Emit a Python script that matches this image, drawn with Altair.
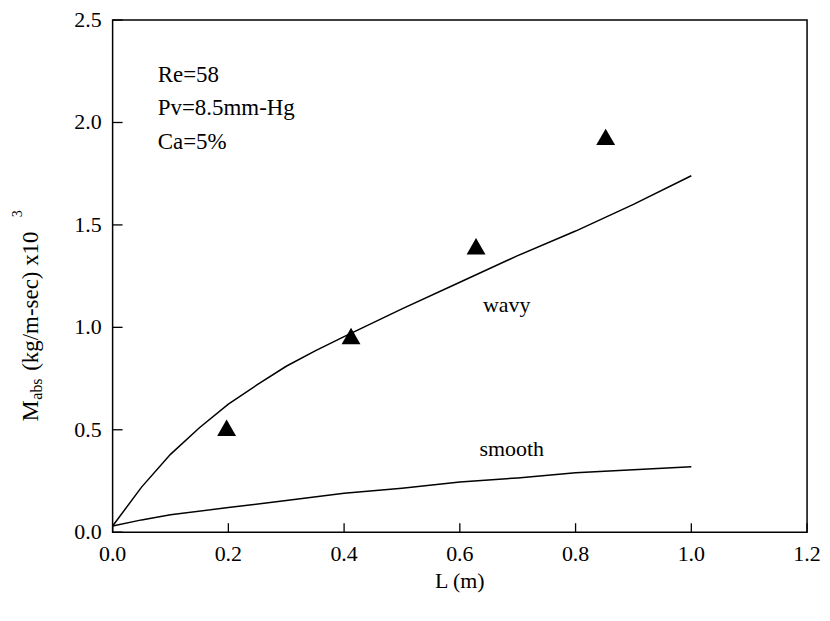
import altair as alt
import pandas as pd

# ---- data ----
wavy_L = [0.0, 0.05, 0.1, 0.15, 0.2, 0.25, 0.3, 0.35, 0.4, 0.5, 0.6, 0.7, 0.8, 0.9, 1.0]
wavy_M = [0.03, 0.22, 0.38, 0.51, 0.625, 0.72, 0.81, 0.885, 0.955, 1.09, 1.22, 1.35, 1.47, 1.60, 1.74]
smooth_L = [0.0, 0.05, 0.1, 0.2, 0.3, 0.4, 0.5, 0.6, 0.7, 0.8, 0.9, 1.0]
smooth_M = [0.03, 0.06, 0.085, 0.12, 0.155, 0.19, 0.215, 0.245, 0.265, 0.29, 0.305, 0.32]
exp_L = [0.197, 0.412, 0.628, 0.852]
exp_M = [0.51, 0.958, 1.396, 1.93]
x_ticks = [0.0, 0.2, 0.4, 0.6, 0.8, 1.0, 1.2]
y_ticks = [0.0, 0.5, 1.0, 1.5, 2.0, 2.5]
notes = ["Re=58", "Pv=8.5mm-Hg", "Ca=5%"]
notes_x = [0.078, 0.078, 0.078]
notes_y = [2.20, 2.035, 1.87]
curve_labels = ["wavy", "smooth"]
curve_labels_x = [0.64, 0.634]
curve_labels_y = [1.075, 0.37]

W, H = 697, 514
FONT = "Liberation Serif"

xs = alt.Scale(domain=[0, 1.2], nice=False, zero=False)
ys = alt.Scale(domain=[0, 2.5], nice=False, zero=False)


def X(f):
    return alt.X(f, scale=xs, axis=None, title=None)


def Y(f):
    return alt.Y(f, scale=ys, axis=None, title=None)


df_lines = pd.DataFrame(
    {"L": wavy_L + smooth_L, "M": wavy_M + smooth_M,
     "s": ["wavy"] * len(wavy_L) + ["smooth"] * len(smooth_L)}
)
df_exp = pd.DataFrame({"L": exp_L, "M": exp_M})
df_xt = pd.DataFrame({"L": x_ticks})
df_yt = pd.DataFrame({"M": y_ticks})
df_notes = pd.DataFrame({"L": notes_x, "M": notes_y, "t": notes})
df_cl = pd.DataFrame({"L": curve_labels_x, "M": curve_labels_y, "t": curve_labels})

lines = alt.Chart(df_lines).mark_line(color="black", strokeWidth=1.5).encode(
    x=X("L:Q"), y=Y("M:Q"), detail="s:N"
)

pts = alt.Chart(df_exp).mark_point(shape="triangle-up", filled=True, color="black",
                                   size=360, opacity=1).encode(x=X("L:Q"), y=Y("M:Q"))

# inward ticks
xt = alt.Chart(df_xt).mark_rule(color="black", strokeWidth=1.3).encode(
    x=X("L:Q"), y=alt.value(H), y2=alt.value(H - 9),
)
yt = alt.Chart(df_yt).mark_rule(color="black", strokeWidth=1.3).encode(
    y=Y("M:Q"), x=alt.value(0), x2=alt.value(10),
)

# tick labels
xl = alt.Chart(df_xt).mark_text(align="center", baseline="top", font=FONT,
                                fontSize=22, color="black").encode(
    x=X("L:Q"), y=alt.value(H + 12), text=alt.Text("L:Q", format=".1f"),
)
yl = alt.Chart(df_yt).mark_text(align="right", baseline="middle", font=FONT,
                                fontSize=22, color="black").encode(
    y=Y("M:Q"), x=alt.value(-11), text=alt.Text("M:Q", format=".1f"),
)

note_text = alt.Chart(df_notes).mark_text(align="left", baseline="alphabetic",
                                          font=FONT, fontSize=23, color="black").encode(
    x=X("L:Q"), y=Y("M:Q"), text="t:N",
)
cl_text = alt.Chart(df_cl).mark_text(align="left", baseline="alphabetic",
                                     font=FONT, fontSize=22, color="black").encode(
    x=X("L:Q"), y=Y("M:Q"), text="t:N",
)

# axis titles
xtitle = alt.Chart(pd.DataFrame({"t": ["L  (m)"]})).mark_text(
    align="center", baseline="alphabetic", font=FONT, fontSize=22, color="black"
).encode(x=alt.value(W / 2), y=alt.value(H + 56), text="t:N")


def ytext(txt, yv, xv, size):
    return alt.Chart(pd.DataFrame({"t": [txt]})).mark_text(
        align="left", baseline="alphabetic", angle=270, font=FONT, fontSize=size, color="black"
    ).encode(x=alt.value(xv), y=alt.value(yv), text="t:N")


yt_M = ytext("M", 403, -75, 24)
yt_abs = ytext("abs", 381, -71, 16)
yt_rest = ytext("(kg/m-sec) x10", 352, -75, 23)
yt_sup = ytext("3", 198, -91, 14)

chart = alt.layer(lines, pts, xt, yt, xl, yl, note_text, cl_text, xtitle,
                  yt_M, yt_abs, yt_rest, yt_sup).properties(
    width=W, height=H,
    background="white",
    autosize=alt.AutoSizeParams(type="none"),
    padding={"left": 105, "top": 11, "right": 15, "bottom": 80},
).configure_view(stroke="black", strokeWidth=1.5)

chart.save("out.html", embed_options={"renderer": "svg", "actions": False})
